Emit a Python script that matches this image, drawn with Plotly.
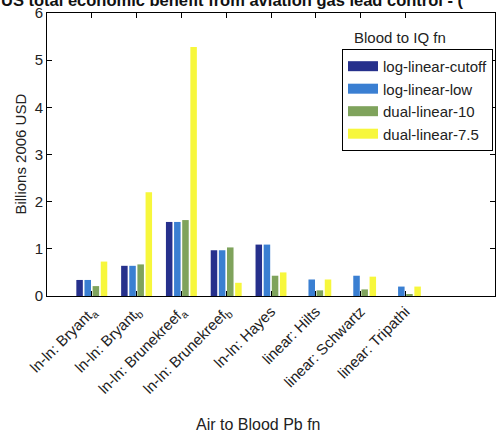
import plotly.graph_objects as go

categories = ["ln-ln: Bryant<sub>a</sub>", "ln-ln: Bryant<sub>b</sub>", "ln-ln: Brunekreef<sub>a</sub>",
              "ln-ln: Brunekreef<sub>b</sub>", "ln-ln: Hayes", "linear: Hilts",
              "linear: Schwartz", "linear: Tripathi"]
positions = [1, 2, 3, 4, 5, 6, 7, 8]

log_linear_cutoff = [0.34, 0.64, 1.57, 0.97, 1.09, 0.0, 0.0, 0.0]
log_linear_low = [0.34, 0.64, 1.57, 0.97, 1.09, 0.35, 0.43, 0.20]
dual_linear_10 = [0.21, 0.67, 1.61, 1.03, 0.43, 0.12, 0.14, 0.03]
dual_linear_75 = [0.73, 2.20, 5.28, 0.28, 0.50, 0.35, 0.41, 0.20]

series_names = ["log-linear-cutoff", "log-linear-low", "dual-linear-10", "dual-linear-7.5"]
series_values = [log_linear_cutoff, log_linear_low, dual_linear_10, dual_linear_75]
colors = ["#26308c", "#3a7fd2", "#7fa35c", "#f7f73c"]

fig = go.Figure()
for name, vals, col in zip(series_names, series_values, colors):
    fig.add_trace(go.Bar(x=positions, y=vals, name=name, legendgroup=name, showlegend=False,
                         marker=dict(color=col, line=dict(width=0))))
# legend swatches (wide, like the reference)
for name, col in zip(series_names, colors):
    fig.add_trace(go.Scatter(x=[None], y=[None], mode="lines", name=name, legendgroup=name,
                             line=dict(color=col, width=16), showlegend=True))

font_family = "Liberation Sans, Arial, sans-serif"
fig.update_layout(
    width=497, height=432,
    margin=dict(l=47, r=2, t=13, b=136),
    paper_bgcolor="white", plot_bgcolor="white",
    barmode="group", bargap=0.273, bargroupgap=0.2,
    font=dict(family=font_family, size=14, color="#222"),
    showlegend=True,
    legend=dict(x=0.9955, xanchor="right", y=0.873, yanchor="top",
                bordercolor="black", borderwidth=1, bgcolor="white",
                font=dict(size=15, color="#222"), tracegroupgap=0),
    xaxis=dict(range=[0, 10], tickmode="array", tickvals=positions, ticktext=categories,
               tickangle=-45, ticks="inside", ticklen=5, tickcolor="black",
               showline=True, linecolor="black", linewidth=1, mirror="ticks",
               showgrid=False, zeroline=False, tickfont=dict(size=15)),
    yaxis=dict(range=[0, 6], tickmode="array", tickvals=[0, 1, 2, 3, 4, 5, 6],
               ticks="inside", ticklen=5, tickcolor="black",
               showline=True, linecolor="black", linewidth=1, mirror="ticks",
               showgrid=False, zeroline=False, tickfont=dict(size=15)),
    annotations=[
        dict(text="<b>US total economic benefit from aviation gas lead control - (</b>",
             xref="paper", yref="paper", x=-0.108, y=1.047, xanchor="left", yanchor="middle",
             showarrow=False, font=dict(size=16.5, family=font_family, color="#111")),
        dict(text="Blood to IQ fn", xref="paper", yref="paper", x=0.788, y=0.912,
             xanchor="center", yanchor="middle", showarrow=False, font=dict(size=15)),
        dict(text="Billions 2006 USD", xref="paper", yref="paper", x=-0.06, y=0.5,
             xanchor="center", yanchor="middle", textangle=-90, showarrow=False,
             font=dict(size=15)),
        dict(text="Air to Blood Pb fn", xref="paper", yref="paper", x=0.473, y=-0.455,
             xanchor="center", yanchor="middle", showarrow=False, font=dict(size=16)),
    ],
)

fig.write_html("out.html")
